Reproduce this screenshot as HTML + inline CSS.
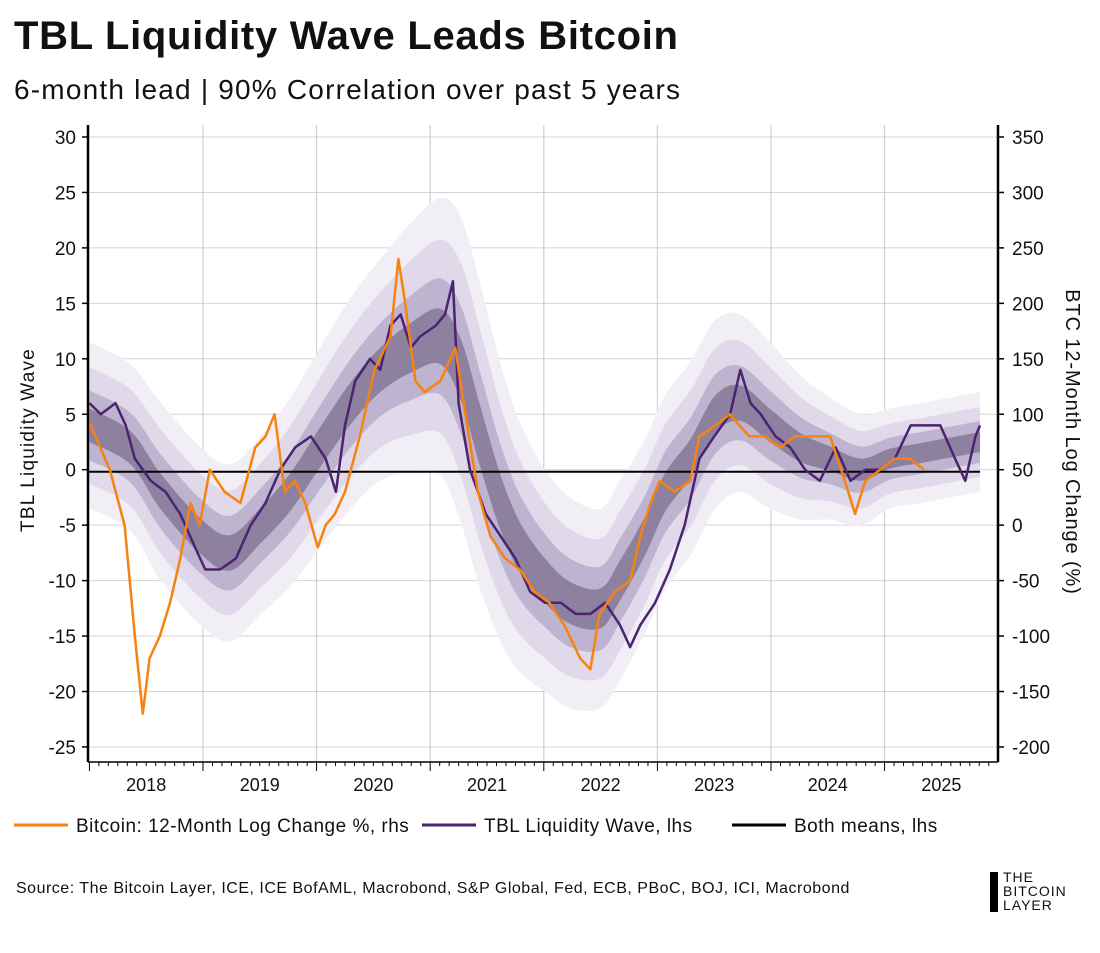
<!DOCTYPE html>
<html><head><meta charset="utf-8"><style>
body{margin:0;background:#fff;font-family:"Liberation Sans",sans-serif}
#wrap{position:relative;width:1100px;height:953px;overflow:hidden}
.t{position:absolute;white-space:nowrap;color:#111}
</style></head><body>
<div id="wrap">
<div class="t" style="left:14px;top:14px;font-size:40px;letter-spacing:0.7px;font-weight:bold">TBL Liquidity Wave Leads Bitcoin</div>
<div class="t" style="left:14px;top:74px;font-size:28px;letter-spacing:1.2px">6-month lead | 90% Correlation over past 5 years</div>
<svg id="svg" width="1100" height="953" style="position:absolute;left:0;top:0"></svg>
<div class="t" style="left:16px;top:880px;font-size:16px;letter-spacing:0.5px">Source: The Bitcoin Layer, ICE, ICE BofAML, Macrobond, S&amp;P Global, Fed, ECB, PBoC, BOJ, ICI, Macrobond</div>
<div style="position:absolute;left:990px;top:872px;width:8px;height:40px;background:#000"></div>
<div class="t" style="left:1003px;top:870px;font-size:14px;line-height:14px;letter-spacing:1px">THE<br>BITCOIN<br>LAYER</div>
</div>
<script>
const btcDates=[2017.99,2018.18,2018.31,2018.40,2018.47,2018.53,2018.62,2018.71,2018.80,2018.89,2018.97,2019.06,2019.19,2019.33,2019.46,2019.55,2019.63,2019.72,2019.81,2019.90,2020.01,2020.08,2020.16,2020.25,2020.38,2020.51,2020.65,2020.72,2020.78,2020.87,2020.95,2021.09,2021.22,2021.31,2021.42,2021.53,2021.66,2021.79,2021.92,2022.05,2022.18,2022.32,2022.41,2022.49,2022.63,2022.76,2022.85,2022.94,2023.02,2023.15,2023.29,2023.37,2023.51,2023.64,2023.72,2023.81,2023.95,2024.08,2024.21,2024.34,2024.52,2024.65,2024.74,2024.83,2024.96,2025.09,2025.22,2025.35];
const btcValues=[95,50,0,-100,-170,-120,-100,-70,-30,20,0,50,30,20,70,80,100,30,40,20,-20,0,10,30,80,140,170,240,200,130,120,130,160,100,30,-10,-30,-40,-60,-70,-90,-120,-130,-80,-60,-50,-10,20,40,30,40,80,90,100,90,80,80,70,80,80,80,40,10,40,50,60,60,50];
const waveDates=[2018.0,2018.10,2018.23,2018.32,2018.40,2018.54,2018.67,2018.80,2018.93,2019.02,2019.15,2019.29,2019.42,2019.55,2019.68,2019.81,2019.95,2020.08,2020.17,2020.25,2020.34,2020.47,2020.56,2020.65,2020.74,2020.83,2020.91,2021.05,2021.13,2021.20,2021.25,2021.35,2021.49,2021.62,2021.75,2021.88,2022.01,2022.15,2022.28,2022.41,2022.54,2022.67,2022.76,2022.85,2022.98,2023.11,2023.24,2023.37,2023.50,2023.64,2023.73,2023.82,2023.91,2024.04,2024.17,2024.30,2024.43,2024.57,2024.70,2024.83,2024.96,2025.09,2025.23,2025.36,2025.49,2025.62,2025.71,2025.80,2025.84];
const waveValues=[6,5,6,4,1,-1,-2,-4,-7,-9,-9,-8,-5,-3,0,2,3,1,-2,4,8,10,9,13,14,11,12,13,14,17,6,0,-4,-6,-8,-11,-12,-12,-13,-13,-12,-14,-16,-14,-12,-9,-5,1,3,5,9,6,5,3,2,0,-1,2,-1,0,0,1,4,4,4,1,-1,3,4];
const bandDates=[2018.0,2018.36,2018.63,2018.98,2019.24,2019.51,2019.77,2020.03,2020.30,2020.56,2020.83,2021.09,2021.27,2021.44,2021.62,2021.79,2022.01,2022.23,2022.50,2022.67,2022.89,2023.07,2023.29,2023.51,2023.73,2023.99,2024.26,2024.52,2024.79,2025.05,2025.32,2025.58,2025.84];
const bandCenter=[4,2,-2,-6,-7.5,-5,-2,2,6,9,11,12,9,3,-3,-7,-10,-12,-12.5,-10,-6,-2,1,5,6,4,2,1,0,1,1.5,2,2.5];
const bandSpread=[3,3,3.2,3.2,3.2,3.2,3.4,3.6,3.8,4,4.5,5,5.5,5.5,5,4.5,4,3.8,3.6,3.6,3.5,3.5,3.5,3.4,3.2,3,2.6,2.2,2,1.8,1.8,1.8,1.8];
const leftTicks=[30,25,20,15,10,5,0,-5,-10,-15,-20,-25];
const rightTicks=[350,300,250,200,150,100,50,0,-50,-100,-150,-200];
const yearLabels=[2018,2019,2020,2021,2022,2023,2024,2025];

const X0=89.4,PXY=113.6,L=88,R=998,T=125,B=762;
const xs=d=>X0+(d-2018)*PXY;
const yl=v=>469.7-v*11.09;
const yr=v=>yl((v-50)/10);
const svg=document.getElementById('svg');
const NS='http://www.w3.org/2000/svg';
function mk(tag,attrs,name,parent){const e=document.createElementNS(NS,tag);for(const k in attrs)e.setAttribute(k,attrs[k]);


(parent||svg).appendChild(e);return e;}
leftTicks.forEach(v=>{mk('line',{x1:L,x2:R,y1:yl(v),y2:yl(v),stroke:'#d4d4d4','stroke-width':1},'h-gridline');});
for(let y=2019;y<=2025;y++){mk('line',{x1:xs(y),x2:xs(y),y1:T,y2:B,stroke:'#c8c8c8','stroke-width':1},'v-gridline');}
function smooth(pts){let d='M'+pts[0][0]+','+pts[0][1];for(let i=0;i<pts.length-1;i++){const p0=pts[Math.max(0,i-1)],p1=pts[i],p2=pts[i+1],p3=pts[Math.min(pts.length-1,i+2)];
d+=' C'+(p1[0]+(p2[0]-p0[0])/6)+','+(p1[1]+(p2[1]-p0[1])/6)+' '+(p2[0]-(p3[0]-p1[0])/6)+','+(p2[1]-(p3[1]-p1[1])/6)+' '+p2[0]+','+p2[1];}return d;}
[[2.5,'#f1eef5','band-outer'],[1.75,'#e0d9ea','band-wide'],[1.05,'#bfb4d0','band-mid'],[0.5,'#8e819f','band-core']].forEach(([m,c,n])=>{
const up=bandDates.map((d,i)=>[xs(d),yl(bandCenter[i]+bandSpread[i]*m)]);
const lo=bandDates.map((d,i)=>[xs(d),yl(bandCenter[i]-bandSpread[i]*m)]).reverse();
const d=smooth(up)+' L'+smooth(lo).slice(1)+' Z';
mk('path',{d:d,fill:c,stroke:'none'},n);});
mk('line',{x1:L,x2:980,y1:yl(0)+2,y2:yl(0)+2,stroke:'#000','stroke-width':2},'mean-line');
mk('polyline',{points:waveDates.map((d,i)=>xs(d)+','+yl(waveValues[i])).join(' '),fill:'none',stroke:'#4b2370','stroke-width':2.5,'stroke-linejoin':'round'},'liquidity-wave-line');
mk('polyline',{points:btcDates.map((d,i)=>xs(d)+','+yr(btcValues[i])).join(' '),fill:'none',stroke:'#f7820f','stroke-width':2.5,'stroke-linejoin':'round'},'bitcoin-line');
mk('line',{x1:L,x2:L,y1:T,y2:B,stroke:'#000','stroke-width':2.5},'left-axis');
mk('line',{x1:R,x2:R,y1:T,y2:B,stroke:'#000','stroke-width':2.5},'right-axis');
mk('line',{x1:L,x2:R,y1:B,y2:B,stroke:'#000','stroke-width':1.5},'x-axis');
leftTicks.forEach(v=>{mk('line',{x1:L-6,x2:L,y1:yl(v),y2:yl(v),stroke:'#000','stroke-width':1.5},'left-tick');
const t=mk('text',{x:L-12,y:yl(v)+7,'text-anchor':'end','font-size':19,fill:'#111','font-family':'Liberation Sans'},'left-tick-label');t.textContent=v;});
rightTicks.forEach(v=>{mk('line',{x1:R,x2:R+6,y1:yr(v),y2:yr(v),stroke:'#000','stroke-width':1.5},'right-tick');
const t=mk('text',{x:R+14,y:yr(v)+7,'text-anchor':'start','font-size':19,fill:'#111','font-family':'Liberation Sans'},'right-tick-label');t.textContent=v;});
for(let m=0;m<=95;m++){const x=xs(2018+m/12);if(x>R)break;mk('line',{x1:x,x2:x,y1:B,y2:B+(m%12==0?9:4),stroke:'#000','stroke-width':1},'x-tick');}
yearLabels.forEach(y=>{const t=mk('text',{x:xs(y+0.5),y:791,'text-anchor':'middle','font-size':18,fill:'#111','font-family':'Liberation Sans'},'x-tick-label');t.textContent=y;});
let t=mk('text',{x:0,y:0,transform:'translate(34,440) rotate(-90)','text-anchor':'middle','font-size':19,'letter-spacing':1.2,fill:'#111','font-family':'Liberation Sans'},'left-axis-title');t.textContent='TBL Liquidity Wave';
t=mk('text',{x:0,y:0,transform:'translate(1066,442) rotate(90)','text-anchor':'middle','font-size':20,'letter-spacing':0.9,fill:'#111','font-family':'Liberation Sans'},'right-axis-title');t.textContent='BTC 12-Month Log Change (%)';
[[14,'#f7820f','Bitcoin: 12-Month Log Change %, rhs','legend-bitcoin'],[422,'#4b2370','TBL Liquidity Wave, lhs','legend-wave'],[732,'#000','Both means, lhs','legend-means']].forEach(([x,c,s,n])=>{
const g=mk('g',{},n);
mk('line',{x1:x,x2:x+54,y1:825,y2:825,stroke:c,'stroke-width':3},n+'-swatch',g);
const tt=mk('text',{x:x+62,y:832,'font-size':19,'letter-spacing':0.5,fill:'#111','font-family':'Liberation Sans'},n+'-label',g);tt.textContent=s;});
</script>
</body></html>
